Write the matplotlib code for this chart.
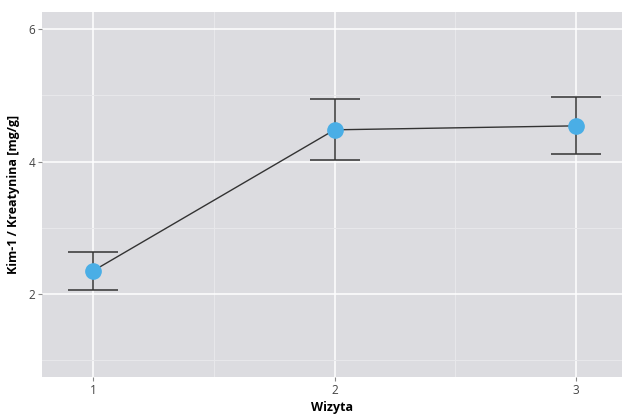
import numpy as np
import matplotlib.pyplot as plt

visits = [1, 2, 3]
means = [2.35, 4.48, 4.54]
lower = [2.06, 4.02, 4.11]
upper = [2.63, 4.94, 4.97]

means = np.array(means)
err = [means - np.array(lower), np.array(upper) - means]

plt.rcParams['font.family'] = ['Open Sans', 'DejaVu Sans']

fig = plt.figure(figsize=(6.22, 4.19), dpi=100)
ax = fig.add_axes([0.0675, 0.1, 0.9325, 0.871])
ax.set_facecolor('#dcdce0')

ax.set_xlim(0.789, 3.19)
ax.set_ylim(0.748, 6.256)
ax.set_xticks(visits)
ax.set_yticks([2, 4, 6])
ax.set_xticks([1.5, 2.5], minor=True)
ax.set_yticks([1, 3, 5], minor=True)
ax.grid(which='major', color='white', lw=1.1)
ax.grid(which='minor', color='#e8e8eb', lw=0.7)
ax.set_axisbelow(True)
for s in ax.spines.values():
    s.set_visible(False)
ax.tick_params(which='major', length=3, color='#888888', labelcolor='#444444', labelsize=8.5, pad=2)
ax.tick_params(which='minor', length=0)

ax.plot(visits, means, color='#333333', lw=1, zorder=2)
ax.errorbar(visits, means, yerr=err, fmt='none', ecolor='#333333', elinewidth=1.1,
            capsize=18, capthick=1.1, zorder=3)
ax.plot(visits, means, 'o', color='#4aaee6', markersize=11, zorder=4)

ax.set_xlabel('Wizyta', fontweight='bold', fontsize=9, labelpad=3)
ax.set_ylabel('Kim-1 / Kreatynina [mg/g]', fontweight='bold', fontsize=9, labelpad=6)

fig.savefig('out.png', dpi=100)
